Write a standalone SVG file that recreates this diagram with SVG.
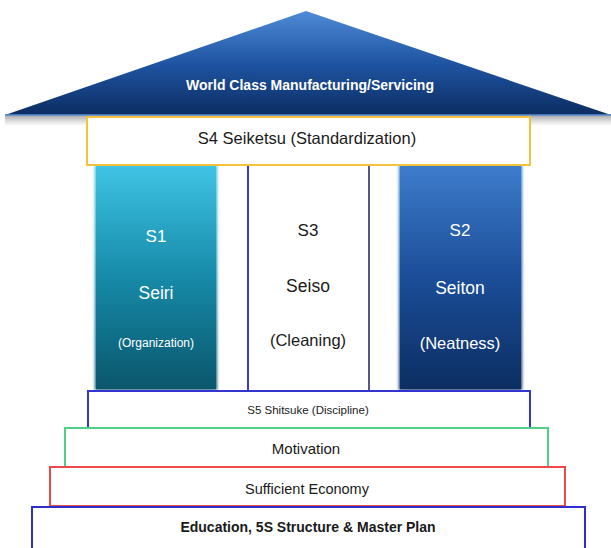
<svg xmlns="http://www.w3.org/2000/svg" width="611" height="548" viewBox="0 0 611 548">
<defs>
<linearGradient id="roofG" x1="0" y1="0" x2="0" y2="1">
<stop offset="0" stop-color="#4f8bd6"/>
<stop offset="0.5" stop-color="#1f55a3"/>
<stop offset="1" stop-color="#0c2d62"/>
</linearGradient>
<linearGradient id="s1G" x1="0" y1="0" x2="0" y2="1">
<stop offset="0" stop-color="#3fc3e4"/>
<stop offset="0.5" stop-color="#168aa8"/>
<stop offset="1" stop-color="#0a566c"/>
</linearGradient>
<linearGradient id="s2G" x1="0" y1="0" x2="0" y2="1">
<stop offset="0" stop-color="#3d7ccb"/>
<stop offset="0.5" stop-color="#1b4d98"/>
<stop offset="1" stop-color="#0c2e62"/>
</linearGradient>
<linearGradient id="shadowG" x1="0" y1="0" x2="0" y2="1">
<stop offset="0" stop-color="#555" stop-opacity="0.6"/>
<stop offset="1" stop-color="#888" stop-opacity="0"/>
</linearGradient>
<filter id="soft" x="-10%" y="-10%" width="120%" height="120%">
<feGaussianBlur stdDeviation="1.5"/>
</filter>
</defs>
<style>
text{font-family:"Liberation Sans",Arial,sans-serif;text-anchor:middle}
.dark{fill:#1a1a1a}
.wht{fill:#ffffff}
.step{fill:#ffffff;stroke-width:2}
</style>
<rect width="611" height="548" fill="#ffffff"/>

<g id="roof">
<rect x="5" y="114" width="606" height="12" fill="url(#shadowG)"/>
<polygon points="5,115 306,11 611,115" fill="url(#roofG)"/>
<line x1="5" y1="115" x2="611" y2="115" stroke="#5a8fd4" stroke-width="1.5"/>
<text x="310" y="90" class="wht" font-size="14" font-weight="bold">World Class Manufacturing/Servicing</text>
</g>

<g id="s1">
<rect x="95" y="165" width="122" height="225" fill="url(#s1G)" filter="url(#soft)"/>
<rect x="96" y="166" width="120" height="223" fill="url(#s1G)"/>
<text x="156" y="242" class="wht" font-size="17">S1</text>
<text x="156" y="299" class="wht" font-size="17.5">Seiri</text>
<text x="156" y="347" class="wht" font-size="12">(Organization)</text>
</g>

<g id="s3">
<rect x="248" y="165" width="121" height="225" fill="#ffffff"/>
<line x1="248" y1="165" x2="248" y2="390" stroke="#3a3ad8" stroke-width="2"/>
<line x1="369" y1="165" x2="369" y2="390" stroke="#20206a" stroke-width="1.5"/>
<text x="308" y="236" class="dark" font-size="17">S3</text>
<text x="308" y="292" class="dark" font-size="17.5">Seiso</text>
<text x="308" y="346" class="dark" font-size="16.5">(Cleaning)</text>
</g>

<g id="s2">
<rect x="399" y="165" width="123" height="225" fill="url(#s2G)" filter="url(#soft)"/>
<rect x="400" y="166" width="121" height="223" fill="url(#s2G)"/>
<text x="460" y="236" class="wht" font-size="17">S2</text>
<text x="460" y="294" class="wht" font-size="17.5">Seiton</text>
<text x="460" y="349" class="wht" font-size="16.5">(Neatness)</text>
</g>

<g id="s4">
<rect x="87" y="117" width="443" height="48" fill="#ffffff" stroke="#f5c23c" stroke-width="2"/>
<text x="307" y="144" class="dark" font-size="16.5">S4 Seiketsu (Standardization)</text>
</g>

<g id="s5">
<rect x="88" y="391" width="442" height="37" class="step" stroke="#3434d0"/>
<text x="308" y="414" class="dark" font-size="11.5">S5 Shitsuke (Discipline)</text>
</g>

<g id="motivation">
<rect x="65" y="428" width="483" height="39" class="step" stroke="#4fd08a"/>
<text x="306" y="454" class="dark" font-size="15">Motivation</text>
</g>

<g id="economy">
<rect x="50" y="467" width="515" height="39" class="step" stroke="#f04848"/>
<text x="307" y="494" class="dark" font-size="14.5">Sufficient Economy</text>
</g>

<g id="education">
<rect x="32" y="507" width="553" height="45" class="step" stroke="#2e2ecc"/>
<text x="308" y="532" class="dark" font-size="14" font-weight="bold">Education, 5S Structure &amp; Master Plan</text>
</g>

<g id="connectors"/>
</svg>
